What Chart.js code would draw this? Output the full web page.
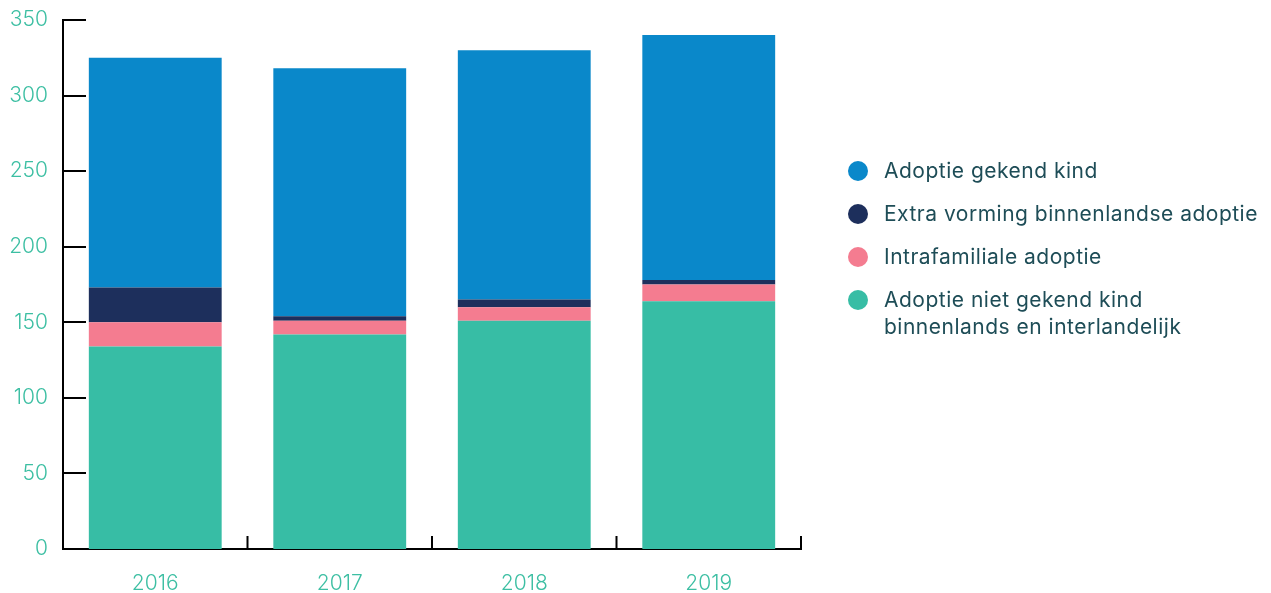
<!DOCTYPE html>
<html>
<head>
<meta charset="utf-8">
<script src="https://cdn.jsdelivr.net/npm/chart.js@4.4.1/dist/chart.umd.min.js"></script>
<style>
  html, body { margin: 0; padding: 0; background: #fff; }
  #wrap { position: relative; width: 1271px; height: 593px; }
  #legend { position: absolute; left: 848px; top: 157px; font-family: Inter, "Noto Sans", sans-serif; font-size: 21px; letter-spacing: 0.5px; color: #1e4d57; }
  .item { display: flex; align-items: flex-start; margin-bottom: 16px; line-height: 27px; }
  .dot { width: 20px; height: 20px; border-radius: 50%; margin-top: 4px; margin-right: 16px; flex: none; }
</style>
</head>
<body>
<div id="wrap">
  <canvas id="c" width="1271" height="593"></canvas>
  <div id="legend"></div>
</div>
<script>
const categories = ["2016", "2017", "2018", "2019"];
const nietGekend = [134, 142, 151, 164];
const intrafamiliaal = [16, 9, 9, 11];
const extraVorming = [23, 3, 5, 3];
const gekend = [152, 164, 165, 162];
const seriesLabels = [
  ["Adoptie niet gekend kind", "binnenlands en interlandelijk"],
  ["Intrafamiliale adoptie"],
  ["Extra vorming binnenlandse adoptie"],
  ["Adoptie gekend kind"]
];
const seriesColors = ["#37bda5", "#f47c90", "#1d2f5c", "#0a88ca"];
const yTicks = [0, 50, 100, 150, 200, 250, 300, 350];

const seriesData = [nietGekend, intrafamiliaal, extraVorming, gekend];
const datasets = seriesData.map((d, i) => ({
  label: seriesLabels[i].join(" "),
  data: d,
  backgroundColor: seriesColors[i],
  borderWidth: 0,
  barPercentage: 0.72,
  categoryPercentage: 1.0
}));

const innerTicks = {
  id: "innerTicks",
  afterDatasetsDraw(chart) {
    const ctx = chart.ctx;
    const x = chart.scales.x, y = chart.scales.y;
    const area = chart.chartArea;
    ctx.save();
    ctx.strokeStyle = "#000";
    ctx.lineWidth = 2;
    ctx.beginPath();
    y.ticks.forEach(t => {
      if (t.value === 0) return;
      const py = Math.round(y.getPixelForValue(t.value));
      ctx.moveTo(area.left, py);
      ctx.lineTo(area.left + 23, py);
    });
    const catW = (area.right - area.left) / categories.length;
    for (let i = 1; i <= categories.length; i++) {
      const px = x.getPixelForValue(i - 1) + catW / 2;
      ctx.moveTo(px, area.bottom);
      ctx.lineTo(px, area.bottom - 13);
    }
    ctx.stroke();
    ctx.restore();
  }
};

new Chart(document.getElementById("c"), {
  type: "bar",
  data: { labels: categories, datasets },
  options: {
    responsive: false,
    animation: false,
    layout: { padding: { left: 0, right: 470, top: 20, bottom: 0 } },
    plugins: { legend: { display: false }, tooltip: { enabled: false } },
    scales: {
      x: {
        stacked: true,
        offset: true,
        border: { display: true, color: "#000", width: 2 },
        grid: { display: false, drawTicks: false },
        ticks: { color: "#3dbfa3", font: { family: "Inter", size: 21, weight: 300 }, padding: 22 },
        afterFit(s) { s.height = 44; s.paddingLeft = 0; s.paddingRight = 0; }
      },
      y: {
        stacked: true,
        min: 0, max: 350,
        border: { display: true, color: "#000", width: 2 },
        grid: { display: false, drawTicks: false },
        afterBuildTicks(s) { s.ticks = yTicks.map(v => ({ value: v })); },
        ticks: { color: "#3dbfa3", font: { family: "Inter", size: 21, weight: 300 }, padding: 15 },
        afterFit(s) { s.width = 63; s.paddingTop = 0; s.paddingBottom = 0; }
      }
    }
  },
  plugins: [innerTicks]
});

const legend = document.getElementById("legend");
for (let i = seriesLabels.length - 1; i >= 0; i--) {
  const item = document.createElement("div");
  item.className = "item";
  const dot = document.createElement("span");
  dot.className = "dot";
  dot.style.background = seriesColors[i];
  const txt = document.createElement("span");
  txt.innerHTML = seriesLabels[i].join("<br>");
  item.appendChild(dot); item.appendChild(txt);
  legend.appendChild(item);
}
</script>
</body>
</html>
